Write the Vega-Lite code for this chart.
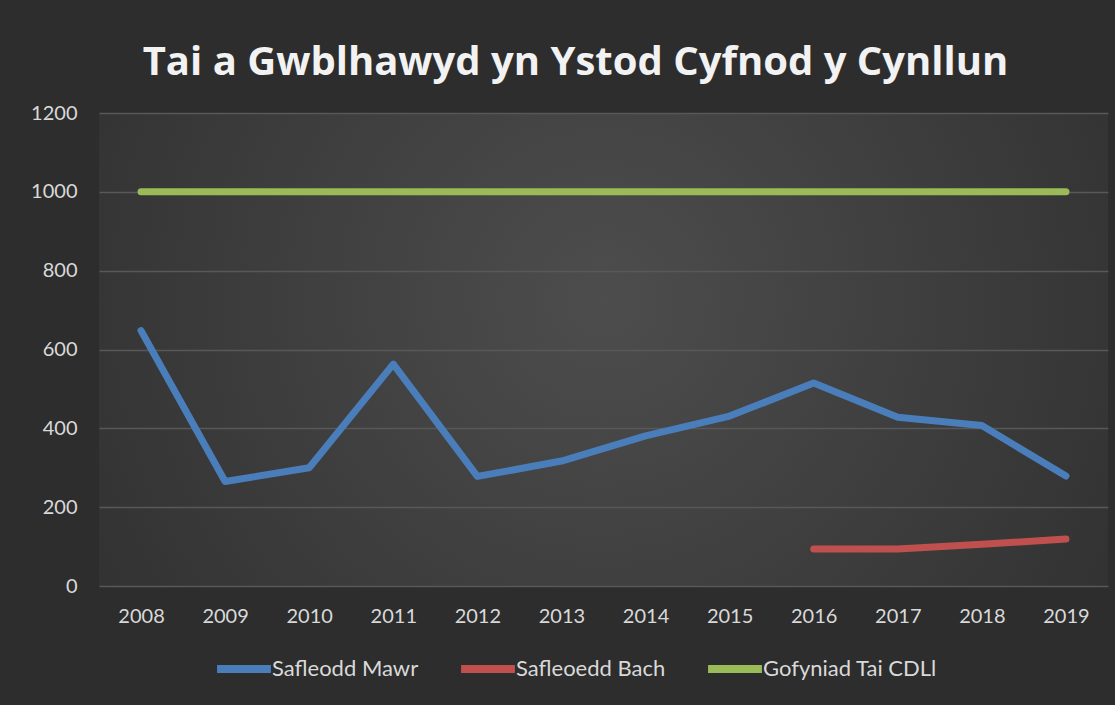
{
  "$schema": "https://vega.github.io/schema/vega-lite/v6.json",
  "width": 1009,
  "height": 473,
  "autosize": "none",
  "padding": {"left": 99, "top": 113, "right": 7, "bottom": 119},
  "background": "#2d2d2d",
  "title": {
    "text": "Tai a Gwblhawyd yn Ystod Cyfnod y Cynllun",
    "font": "Open Sans",
    "fontSize": 40,
    "fontWeight": "bold",
    "color": "#f2f2f2",
    "anchor": "middle",
    "dx": -28,
    "offset": -12,
    "baseline": "alphabetic"
  },
  "data": {
    "values": [
      {"year": "2008", "series": "Safleodd Mawr", "value": 648},
      {"year": "2009", "series": "Safleodd Mawr", "value": 265},
      {"year": "2010", "series": "Safleodd Mawr", "value": 300},
      {"year": "2011", "series": "Safleodd Mawr", "value": 563},
      {"year": "2012", "series": "Safleodd Mawr", "value": 278},
      {"year": "2013", "series": "Safleodd Mawr", "value": 317},
      {"year": "2014", "series": "Safleodd Mawr", "value": 381},
      {"year": "2015", "series": "Safleodd Mawr", "value": 431},
      {"year": "2016", "series": "Safleodd Mawr", "value": 515},
      {"year": "2017", "series": "Safleodd Mawr", "value": 428},
      {"year": "2018", "series": "Safleodd Mawr", "value": 407},
      {"year": "2019", "series": "Safleodd Mawr", "value": 279},
      {"year": "2016", "series": "Safleoedd Bach", "value": 94},
      {"year": "2017", "series": "Safleoedd Bach", "value": 94},
      {"year": "2018", "series": "Safleoedd Bach", "value": 106},
      {"year": "2019", "series": "Safleoedd Bach", "value": 119},
      {"year": "2008", "series": "Gofyniad Tai CDLl", "value": 1000},
      {"year": "2009", "series": "Gofyniad Tai CDLl", "value": 1000},
      {"year": "2010", "series": "Gofyniad Tai CDLl", "value": 1000},
      {"year": "2011", "series": "Gofyniad Tai CDLl", "value": 1000},
      {"year": "2012", "series": "Gofyniad Tai CDLl", "value": 1000},
      {"year": "2013", "series": "Gofyniad Tai CDLl", "value": 1000},
      {"year": "2014", "series": "Gofyniad Tai CDLl", "value": 1000},
      {"year": "2015", "series": "Gofyniad Tai CDLl", "value": 1000},
      {"year": "2016", "series": "Gofyniad Tai CDLl", "value": 1000},
      {"year": "2017", "series": "Gofyniad Tai CDLl", "value": 1000},
      {"year": "2018", "series": "Gofyniad Tai CDLl", "value": 1000},
      {"year": "2019", "series": "Gofyniad Tai CDLl", "value": 1000}
    ]
  },
  "mark": {"type": "line", "strokeWidth": 7, "strokeCap": "round", "strokeJoin": "round"},
  "encoding": {
    "x": {
      "field": "year",
      "type": "ordinal",
      "scale": {"type": "point", "padding": 0.5},
      "axis": {
        "title": null,
        "labelAngle": 0,
        "ticks": false,
        "tickSize": 0,
        "domain": false,
        "labelPadding": 20,
        "labelFont": "Lato",
        "labelFontSize": 20,
        "labelColor": "#d9d9d9"
      }
    },
    "y": {
      "field": "value",
      "type": "quantitative",
      "scale": {"domain": [0, 1200], "nice": false},
      "axis": {
        "title": null,
        "values": [0, 200, 400, 600, 800, 1000, 1200],
        "format": "d",
        "ticks": false,
        "tickSize": 0,
        "domain": false,
        "labelPadding": 22,
        "labelFont": "Lato",
        "labelFontSize": 20,
        "labelColor": "#d9d9d9",
        "gridColor": "#585858",
        "gridWidth": 1.3
      }
    },
    "color": {
      "field": "series",
      "type": "nominal",
      "scale": {
        "domain": ["Safleodd Mawr", "Safleoedd Bach", "Gofyniad Tai CDLl"],
        "range": ["#4a7ebb", "#c0504d", "#9bbb59"]
      },
      "legend": {
        "title": null,
        "orient": "none",
        "direction": "horizontal",
        "legendX": 114,
        "legendY": 525,
        "symbolType": "stroke",
        "symbolSize": 2900,
        "symbolStrokeWidth": 8,
        "labelOffset": -3,
        "labelLimit": 400,
        "columnPadding": 26,
        "labelFont": "Lato",
        "labelFontSize": 22,
        "labelColor": "#d9d9d9"
      }
    }
  },
  "config": {
    "view": {
      "stroke": null,
      "fill": {
        "gradient": "radial",
        "x1": 0.5, "y1": 0.45, "r1": 0,
        "x2": 0.5, "y2": 0.45, "r2": 0.62,
        "stops": [
          {"offset": 0, "color": "#4d4d4d"},
          {"offset": 1, "color": "#303030"}
        ]
      }
    }
  }
}
